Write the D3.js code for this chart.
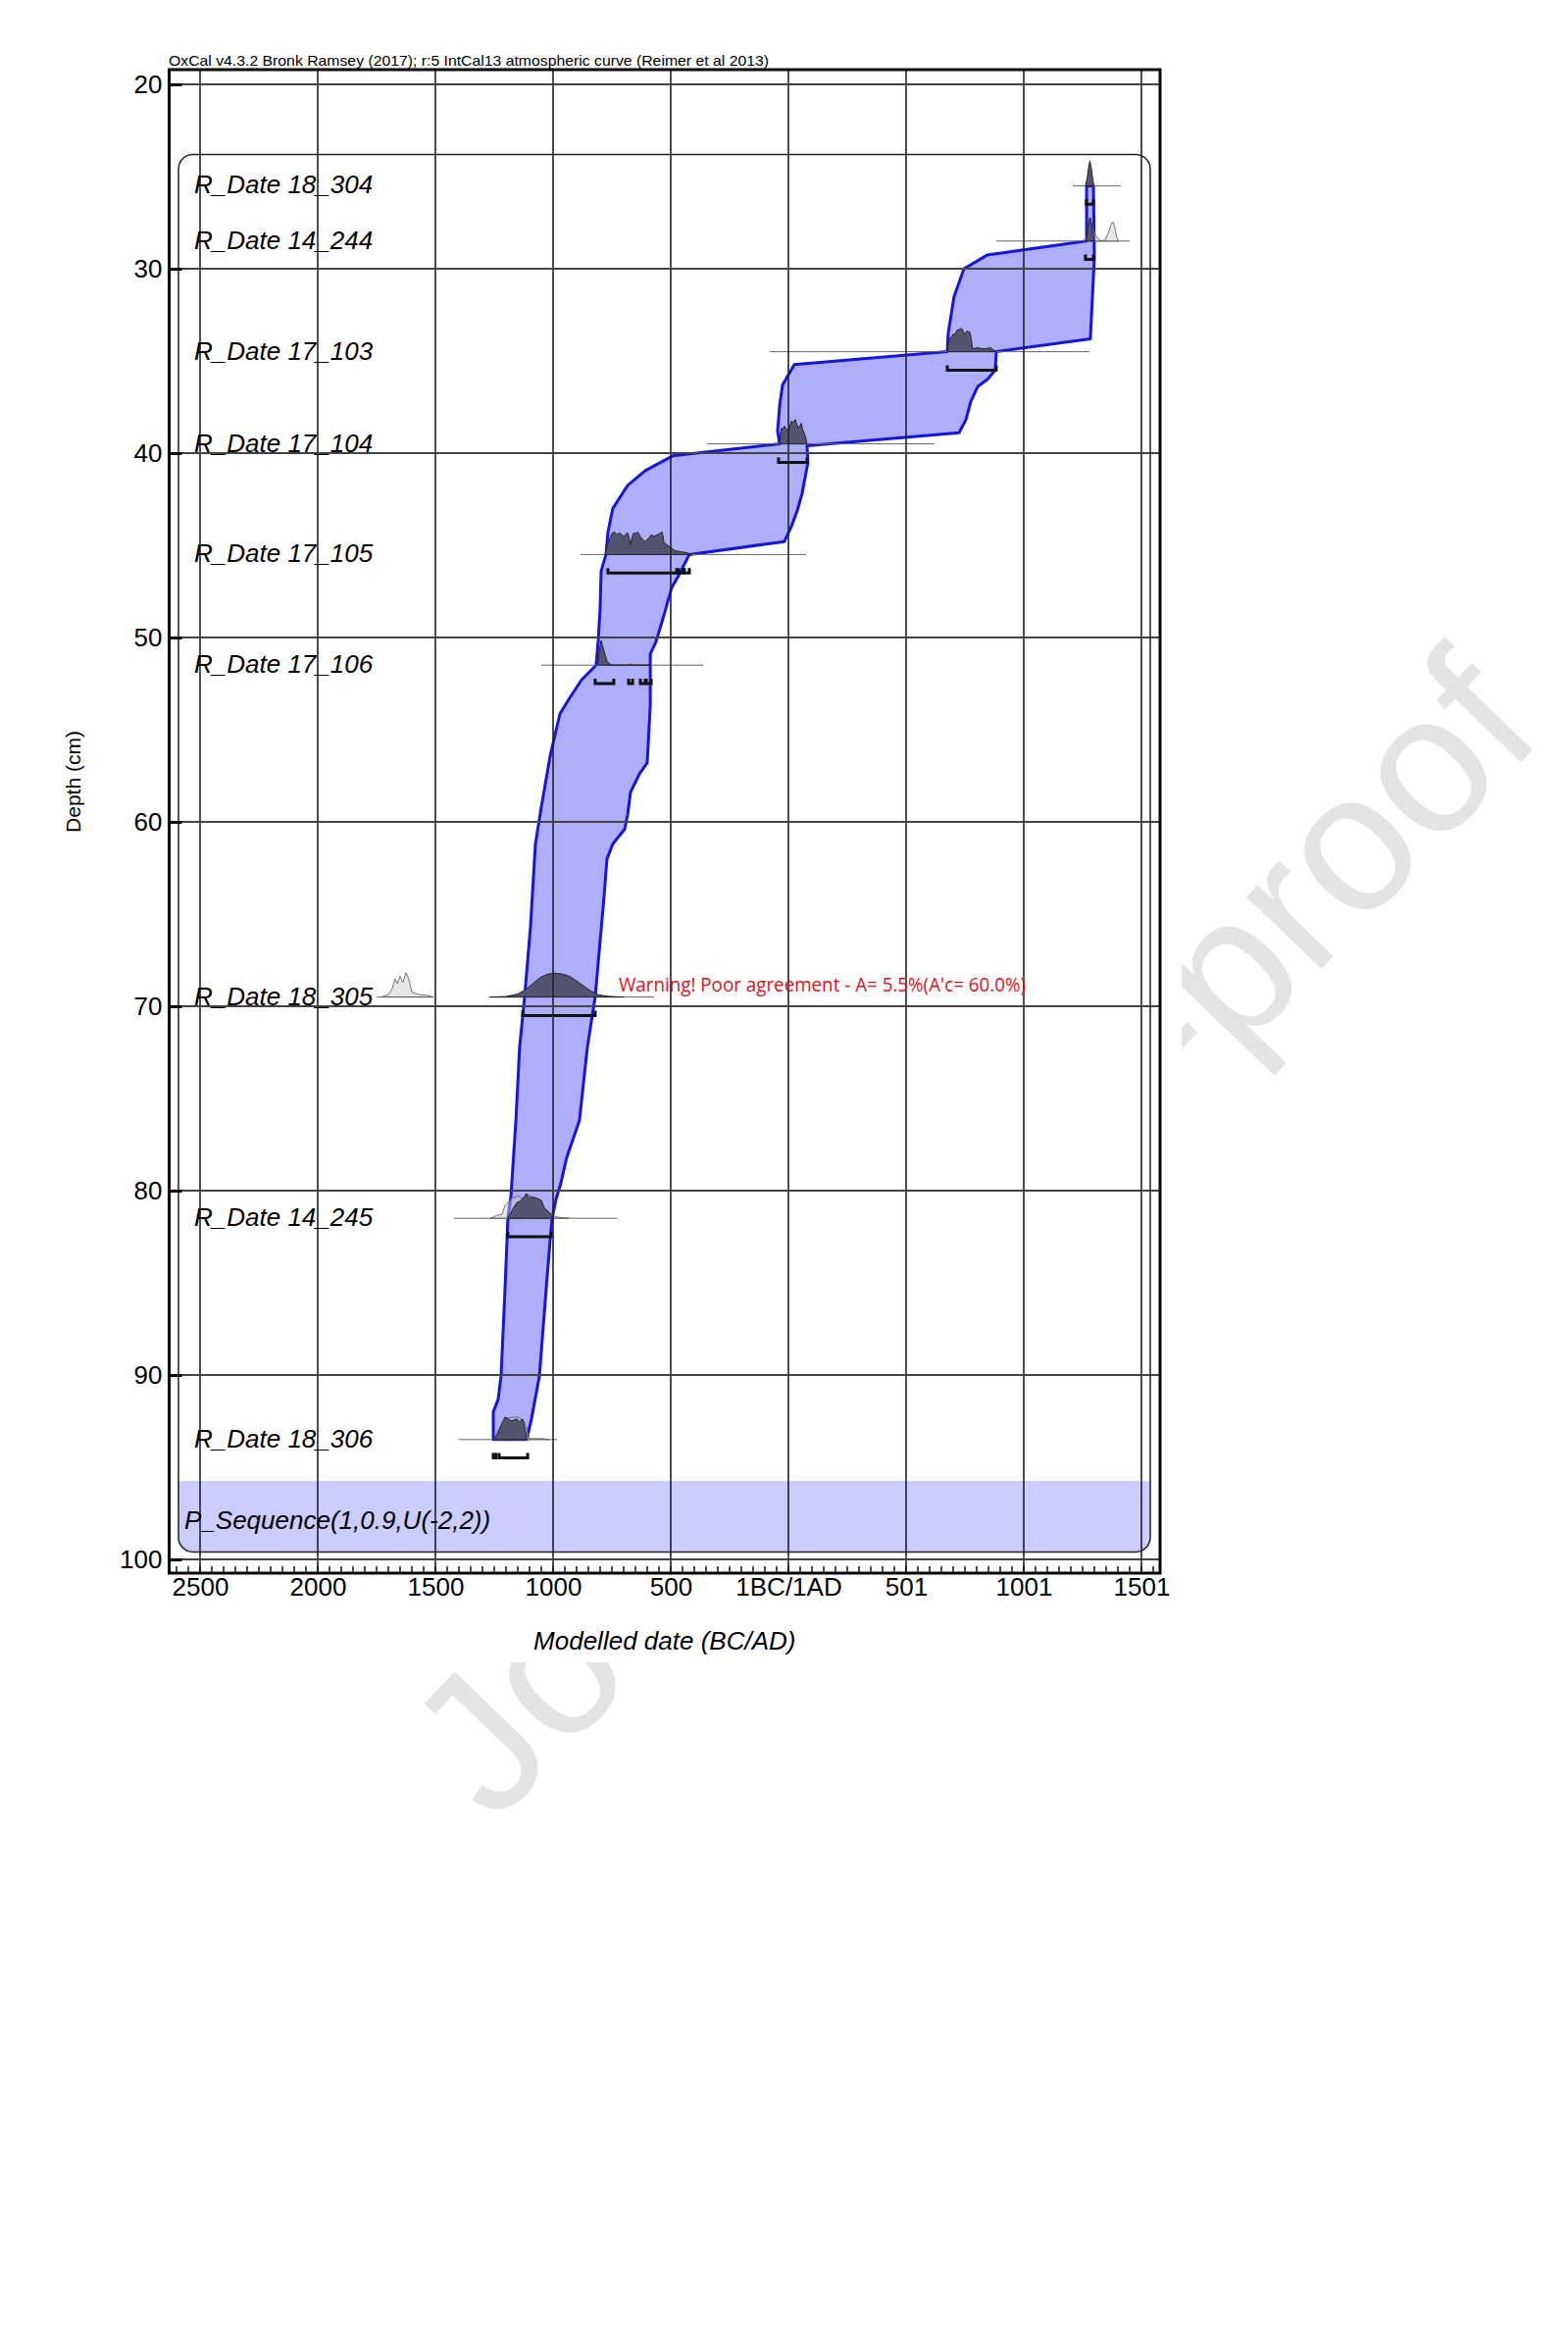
<!DOCTYPE html>
<html lang="en">
<head>
<meta charset="utf-8" />
<title>OxCal depth model</title>
<script src="https://cdn.jsdelivr.net/npm/d3@7/dist/d3.min.js"></script>
<style>
  body { margin: 0; background: #fff; }
  svg { display: block; }
  text { font-family: "Liberation Sans", Arial, sans-serif; }
</style>
</head>
<body>
<svg width="1599" height="2389"></svg>
<script>
// axis ticks (years: BC negative, 1BC/1AD = 0)
const xTicks = [-2500, -2000, -1500, -1000, -500, 0, 500, 1000, 1500];
const xTickLabels = ["2500", "2000", "1500", "1000", "500", "1BC/1AD", "501", "1001", "1501"];
const yTicks = [20, 30, 40, 50, 60, 70, 80, 90, 100];

// samples
const sampleNames = ["R_Date 18_304", "R_Date 14_244", "R_Date 17_103", "R_Date 17_104", "R_Date 17_105",
                     "R_Date 17_106", "R_Date 18_305", "R_Date 14_245", "R_Date 18_306"];
const sampleDepths = [25.5, 28.5, 34.5, 39.5, 45.5, 51.5, 69.5, 81.5, 93.5];
const lineRanges = [
  [[1208, 1412]], [[883, 1450]], [[-79, 1279]], [[-346, 621]], [[-883, 75]],
  [[-1050, -362]], [[-1750, -1508], [-1270, -570]], [[-1421, -729]], [[-1400, -983]]
];
const hpdRanges = [
  [[1266, 1296]], [[1262, 1296]], [[675, 883]], [[-42, 79]],
  [[-767, -475], [-467, -446], [-442, -421]],
  [[-821, -742], [-679, -662], [-629, -608], [-604, -583]],
  [[-1129, -821]], [[-1192, -1008]], [[-1254, -1242], [-1229, -1108]]
];

// modelled (posterior) distributions: [year, relative prob]
const posterior = [
  [[1262,0],[1270,0.35],[1276,0.8],[1281,1],[1286,0.8],[1292,0.35],[1298,0]],
  [[1265,0],[1272,0.5],[1278,0.85],[1282,0.96],[1287,0.7],[1294,0.3],[1300,0]],
  [[675,0],[679,0.3],[683,0.52],[692,0.6],[700,0.72],[708,0.7],[717,0.88],[725,0.9],[733,0.96],[740,0.9],[746,0.72],[752,0.78],[758,0.84],[765,0.82],[771,0.8],[777,0.5],[783,0.12],[795,0.14],[808,0.16],[820,0.12],[838,0.12],[858,0.16],[870,0.08],[883,0]],
  [[-37,0],[-33,0.52],[-29,0.64],[-23,0.6],[-17,0.72],[-8,0.6],[0,0.52],[6,0.7],[12,0.92],[20,0.88],[29,1.0],[36,0.8],[42,0.64],[48,0.72],[54,0.84],[60,0.6],[67,0.44],[75,0.2],[79,0]],
  [[-779,0],[-770,0.35],[-758,0.68],[-748,0.88],[-738,0.92],[-731,0.82],[-725,0.8],[-719,0.9],[-713,0.84],[-704,0.78],[-696,0.72],[-690,0.84],[-683,0.88],[-677,0.7],[-671,0.4],[-664,0.7],[-658,0.88],[-650,0.84],[-642,0.92],[-635,0.84],[-629,0.72],[-618,0.6],[-608,0.52],[-600,0.62],[-592,0.68],[-585,0.78],[-579,0.8],[-572,0.74],[-567,0.76],[-558,0.8],[-550,0.84],[-543,0.88],[-537,0.92],[-533,0.75],[-529,0.52],[-517,0.4],[-500,0.28],[-483,0.16],[-462,0.12],[-433,0.08],[-412,0]],
  [[-812,0],[-808,0.2],[-804,0.56],[-796,1.0],[-790,0.8],[-783,0.56],[-771,0.16],[-758,0.04],[-742,0],[-680,0],[-671,0.04],[-662,0],[-600,0],[-592,0.04],[-583,0]],
  [[-1270,0],[-1200,0.02],[-1150,0.12],[-1110,0.35],[-1080,0.6],[-1050,0.82],[-1020,0.94],[-990,0.97],[-960,0.94],[-930,0.84],[-900,0.66],[-870,0.45],[-840,0.25],[-810,0.1],[-770,0.03],[-700,0]],
  [[-1192,0],[-1170,0.4],[-1154,0.64],[-1140,0.7],[-1129,0.8],[-1120,0.85],[-1113,1.0],[-1106,0.9],[-1100,0.84],[-1090,0.86],[-1079,0.84],[-1067,0.8],[-1050,0.72],[-1043,0.55],[-1037,0.4],[-1017,0.24],[-1004,0.04],[-995,0]],
  [[-1254,0],[-1237,0.2],[-1220,0.6],[-1204,0.92],[-1192,0.84],[-1175,0.76],[-1154,0.84],[-1142,0.72],[-1129,0.84],[-1117,0.32],[-1112,0]]
];

// unmodelled (prior) likelihoods, where visible
const prior = [
  null,
  [[1262,0],[1270,0.4],[1276,0.8],[1282,0.96],[1288,0.75],[1298,0.4],[1312,0.12],[1330,0],[1345,0.05],[1360,0.35],[1372,0.7],[1379,0.78],[1386,0.6],[1395,0.15],[1402,0]],
  null, null, null, null,
  [[-1730,0],[-1700,0.1],[-1685,0.3],[-1672,0.75],[-1662,0.55],[-1650,0.85],[-1638,0.6],[-1625,1.0],[-1612,0.7],[-1600,0.2],[-1570,0.1],[-1540,0.08],[-1510,0]],
  [[-1267,0],[-1237,0.12],[-1217,0.16],[-1204,0.52],[-1192,0.64],[-1175,0.84],[-1162,0.84],[-1150,0.92],[-1133,0.8],[-1113,1.0],[-1090,0.88],[-1067,0.82],[-1050,0.74],[-1037,0.44],[-1004,0.12],[-975,0.04],[-933,0]],
  [[-1254,0],[-1225,0.5],[-1196,0.88],[-1150,0.92],[-1121,0.72],[-1100,0.04],[-1046,0.04],[-1017,0]]
];

// modelled age-depth envelope: [year, depth]
const envLeft = [[1267,25.5],[1267,28.5],[846,29.25],[746,30.0],[704,31.5],[679,33.5],[675,34.5],[25,35.2],[-25,36.3],[-37,37.4],[-46,38.8],[-37,39.5],[-492,40.15],[-608,40.95],[-683,41.75],[-746,43.0],[-767,44.3],[-775,45.5],[-796,46.4],[-800,48.4],[-808,50.15],[-817,51.5],[-879,52.3],[-933,53.35],[-971,54.15],[-1012,56.4],[-1050,59.2],[-1075,61.2],[-1096,65.7],[-1121,69.5],[-1142,72.2],[-1158,76.2],[-1179,80.3],[-1192,81.5],[-1204,85.3],[-1221,90.05],[-1233,91.3],[-1254,92.0],[-1254,93.5]];
const envRight = [[1296,25.5],[1300,29.4],[1283,33.8],[883,34.5],[879,35.5],[846,36.0],[804,36.4],[775,37.2],[754,38.2],[725,38.9],[79,39.6],[83,40.5],[58,42.2],[38,43.1],[12,44.0],[-17,44.8],[-421,45.5],[-467,46.65],[-496,47.3],[-529,48.8],[-562,50.2],[-587,50.9],[-587,53.7],[-600,56.8],[-633,57.4],[-671,58.4],[-683,59.6],[-696,60.4],[-746,61.2],[-771,62.0],[-783,64.0],[-821,69.5],[-854,72.2],[-888,76.2],[-942,78.2],[-967,79.6],[-988,80.5],[-1004,81.5],[-1012,82.6],[-1029,85.3],[-1058,90.05],[-1092,92.4],[-1112,93.5]];

const svg = d3.select("svg");
const x = d3.scaleLinear().domain([-2500, 1500]).range([204, 1164]);
const y = d3.scaleLinear().domain([20, 100]).range([86, 1590]);
const frame = { left: 172.5, right: 1183, top: 71, bottom: 1604 };
const distH = 25;

// watermark behind the chart
svg.append("text")
  .attr("transform", "translate(990,1257) rotate(-46)")
  .attr("text-anchor", "middle")
  .attr("dy", 70)
  .attr("font-size", 200)
  .attr("fill", "#e4e4e4")
  .text("Journal Pre-proof");

svg.append("rect").attr("x", 0).attr("y", 0).attr("width", 1205).attr("height", 1695).attr("fill", "#fff");

// sequence box + P_Sequence band
const box = { x: 182, y: y(23.8), w: 991, h: y(99.6) - y(23.8), r: 15 };
svg.append("clipPath").attr("id", "boxclip")
  .append("rect").attr("x", box.x).attr("y", box.y).attr("width", box.w).attr("height", box.h).attr("rx", box.r);
svg.append("rect")
  .attr("clip-path", "url(#boxclip)")
  .attr("x", box.x).attr("y", y(95.75)).attr("width", box.w).attr("height", y(99.6) - y(95.75))
  .attr("fill", "#ccccff");

// envelope
const envPts = envLeft.concat(envRight.slice().reverse());
svg.append("path")
  .attr("d", d3.line().x(d => x(d[0])).y(d => y(d[1]))(envPts) + "Z")
  .attr("fill", "#aeaefc")
  .attr("stroke", "#1515e0")
  .attr("stroke-width", 3)
  .attr("stroke-linejoin", "round");

// distributions
const dists = svg.append("g");
sampleDepths.forEach((dep, i) => {
  const base = y(dep);
  lineRanges[i].forEach(r => {
    dists.append("line")
      .attr("x1", x(r[0])).attr("x2", x(r[1]))
      .attr("y1", base).attr("y2", base)
      .attr("stroke", "#666").attr("stroke-width", 1);
  });
  const area = d3.area().x(d => x(d[0])).y0(base).y1(d => base - d[1] * distH);
  if (prior[i]) {
    dists.append("path").attr("d", area(prior[i]))
      .attr("fill", "rgba(200,200,200,0.45)").attr("stroke", "#555").attr("stroke-width", 0.8);
  }
  dists.append("path").attr("d", area(posterior[i]))
    .attr("fill", "#555470").attr("stroke", "#222").attr("stroke-width", 1);
  // 95.4% ranges
  const by = y(dep + 1);
  hpdRanges[i].forEach(r => {
    const x0 = x(r[0]), x1 = x(r[1]);
    dists.append("path")
      .attr("d", `M${x0},${by - 5}V${by}H${x1}V${by - 5}`)
      .attr("fill", "none").attr("stroke", "#111").attr("stroke-width", 3);
  });
});

// grid
const grid = svg.append("g");
grid.selectAll(".vg").data(xTicks).join("line")
  .attr("x1", d => x(d)).attr("x2", d => x(d))
  .attr("y1", frame.top).attr("y2", frame.bottom)
  .attr("stroke", "#222").attr("stroke-width", 1.6);
grid.selectAll(".hg").data(yTicks).join("line")
  .attr("x1", frame.left).attr("x2", frame.right)
  .attr("y1", d => y(d)).attr("y2", d => y(d))
  .attr("stroke", "#444").attr("stroke-width", 2.2);

// box outline
svg.append("rect").attr("x", box.x).attr("y", box.y).attr("width", box.w).attr("height", box.h).attr("rx", box.r)
  .attr("fill", "none").attr("stroke", "#222").attr("stroke-width", 1.5);

// minor ticks on the date axis
const minor = d3.range(-2600, 1580, 50).filter(v => x(v) > frame.left + 2 && x(v) < frame.right - 2);
svg.append("g").selectAll("line").data(minor).join("line")
  .attr("x1", d => x(d)).attr("x2", d => x(d))
  .attr("y1", frame.bottom - 7).attr("y2", frame.bottom)
  .attr("stroke", "#111").attr("stroke-width", 1.5);

// frame
svg.append("rect")
  .attr("x", frame.left).attr("y", frame.top)
  .attr("width", frame.right - frame.left).attr("height", frame.bottom - frame.top)
  .attr("fill", "none").attr("stroke", "#000").attr("stroke-width", 3);

// axes
const yAxis = svg.append("g")
  .attr("transform", `translate(${frame.left},0)`)
  .call(d3.axisLeft(y).tickValues(yTicks).tickSizeInner(-13).tickSizeOuter(0).tickPadding(7));
yAxis.select(".domain").remove();
yAxis.selectAll("line").attr("stroke", "#000").attr("stroke-width", 3);
yAxis.selectAll("text").attr("font-size", 26).attr("fill", "#000")
  .style("font-family", "'Liberation Sans', Arial, sans-serif");

const xAxis = svg.append("g")
  .attr("transform", `translate(0,${frame.bottom})`)
  .call(d3.axisBottom(x).tickValues(xTicks).tickSize(0).tickPadding(5)
    .tickFormat((d, i) => xTickLabels[i]));
xAxis.select(".domain").remove();
xAxis.selectAll("text").attr("font-size", 26).attr("fill", "#000")
  .style("font-family", "'Liberation Sans', Arial, sans-serif");

// sample labels
svg.append("g").selectAll("text").data(sampleNames).join("text")
  .attr("x", 198)
  .attr("y", (d, i) => y(sampleDepths[i]) + 8)
  .attr("font-size", 26).attr("font-style", "italic").attr("fill", "#000")
  .text(d => d);

svg.append("text")
  .attr("x", 188).attr("y", 1559)
  .attr("font-size", 26).attr("font-style", "italic").attr("fill", "#000")
  .text("P_Sequence(1,0.9,U(-2,2))");

// warning
svg.append("text")
  .attr("x", 631).attr("y", 1011)
  .attr("font-size", 20).attr("fill", "#e3101c")
  .attr("textLength", 415).attr("lengthAdjust", "spacingAndGlyphs")
  .style("font-family", "'Open Sans', sans-serif")
  .text("Warning! Poor agreement - A= 5.5%(A'c= 60.0%)");

// titles
svg.append("text")
  .attr("x", 172).attr("y", 67)
  .attr("font-size", 14.5).attr("fill", "#000")
  .attr("textLength", 612).attr("lengthAdjust", "spacingAndGlyphs")
  .text("OxCal v4.3.2 Bronk Ramsey (2017); r:5 IntCal13 atmospheric curve (Reimer et al 2013)");

svg.append("text")
  .attr("transform", "translate(82,797) rotate(-90)")
  .attr("text-anchor", "middle")
  .attr("font-size", 21).attr("fill", "#000")
  .text("Depth (cm)");

svg.append("text")
  .attr("x", (frame.left + frame.right) / 2).attr("y", 1682)
  .attr("text-anchor", "middle")
  .attr("font-size", 26).attr("font-style", "italic").attr("fill", "#000")
  .text("Modelled date (BC/AD)");
</script>
</body>
</html>
